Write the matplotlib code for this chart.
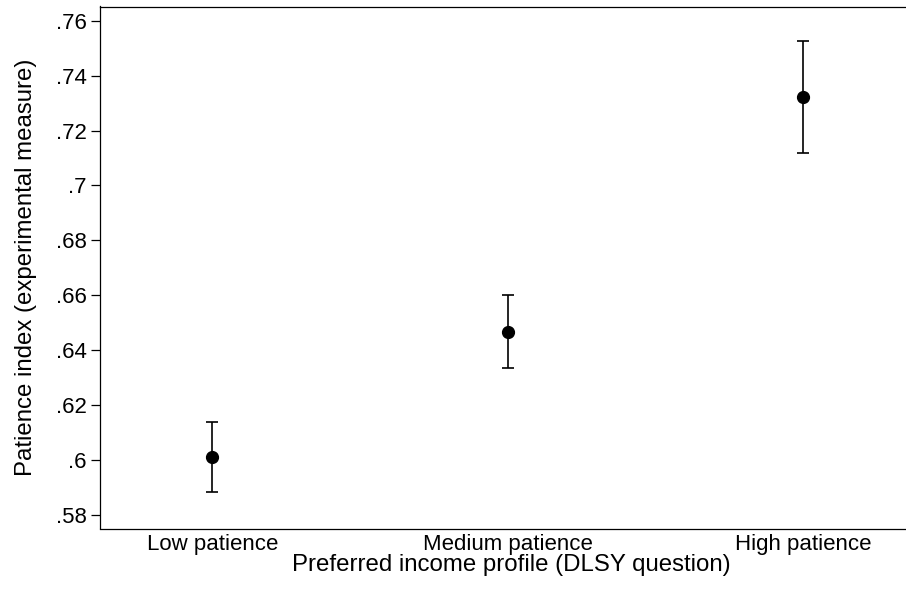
import numpy as np
import matplotlib
matplotlib.use("Agg")
import matplotlib.pyplot as plt
from matplotlib.ticker import FuncFormatter

# values
categories = ["Low patience", "Medium patience", "High patience"]
means = [0.6009, 0.6467, 0.7321]
ci_low = [0.5882, 0.6333, 0.7117]
ci_high = [0.6136, 0.6601, 0.7525]
yticks = [0.58, 0.60, 0.62, 0.64, 0.66, 0.68, 0.70, 0.72, 0.74, 0.76]

plt.rcParams['font.family'] = ['Liberation Sans', 'DejaVu Sans']

fig = plt.figure(figsize=(9.06, 5.90), dpi=100)
ax = fig.add_axes([100 / 906, 1 - 528.5 / 590, 806 / 906, 522 / 590])

x = np.arange(1, len(categories) + 1)
means = np.array(means)
yerr = np.array([means - np.array(ci_low), np.array(ci_high) - means])
ax.errorbar(x, means, yerr=yerr, fmt='o', color='black', ms=8.5,
            elinewidth=1.2, capsize=4, capthick=1.2)

ax.set_xlim(0.62, 3.349)
ax.set_ylim(0.57497, 0.7652)
ax.set_xticks(x)
ax.set_xticklabels(categories)
ax.set_yticks(yticks)

def stata_fmt(v, pos):
    s = "%g" % round(v, 2)
    return s[1:] if s.startswith("0") else s

ax.yaxis.set_major_formatter(FuncFormatter(stata_fmt))
ax.tick_params(axis='y', length=6.3, width=0.9, pad=3.2, labelsize=16)
ax.tick_params(axis='x', length=0, pad=4, labelsize=16)

for side in ['left', 'top', 'bottom']:
    ax.spines[side].set_linewidth(0.9)
ax.spines['right'].set_visible(False)

ax.set_ylabel("Patience index (experimental measure)", fontsize=17.3)
ax.yaxis.set_label_coords(-0.0782, 0.5, transform=ax.transAxes)
ax.set_xlabel("Preferred income profile (DLSY question)", fontsize=17.3)
ax.xaxis.set_label_coords(0.51, -0.049, transform=ax.transAxes)
ax.xaxis.label.set_va('top')

fig.savefig("out.png", dpi=100)
